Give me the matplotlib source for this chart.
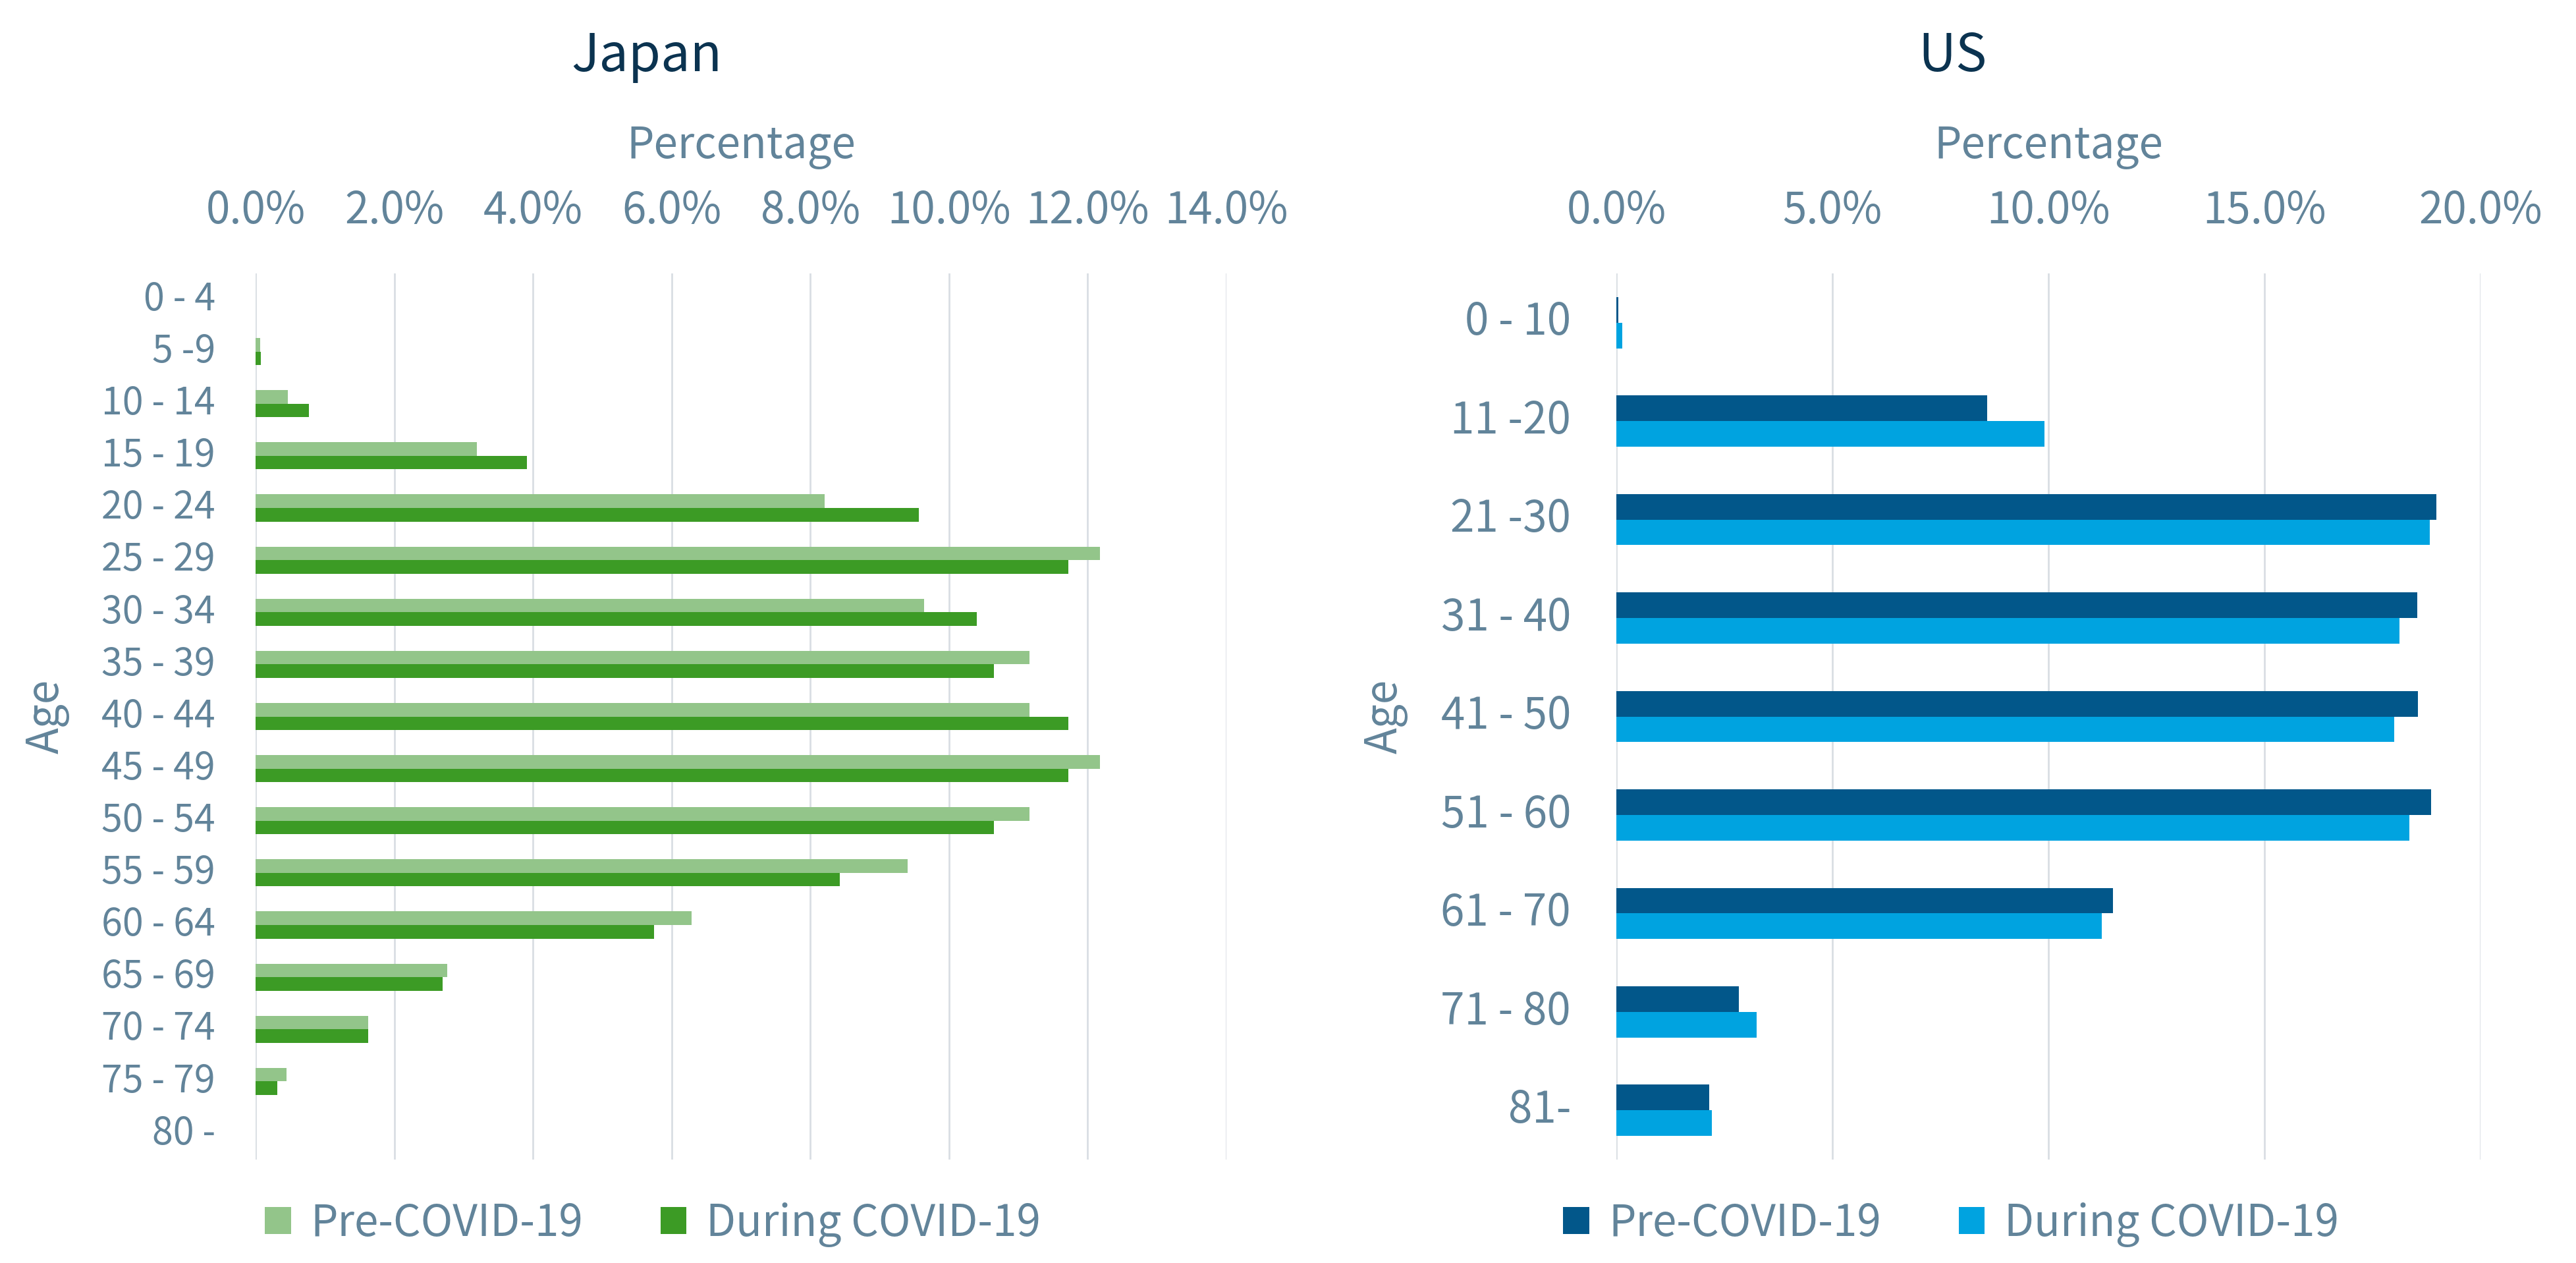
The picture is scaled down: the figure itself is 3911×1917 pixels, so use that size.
import matplotlib.pyplot as plt
import numpy as np

plt.rcParams['font.family'] = ['Noto Sans CJK JP', 'DejaVu Sans']

# Japan data (percent)
jp_ages = ['0 - 4', '5 -9', '10 - 14', '15 - 19', '20 - 24', '25 - 29', '30 - 34',
           '35 - 39', '40 - 44', '45 - 49', '50 - 54', '55 - 59', '60 - 64',
           '65 - 69', '70 - 74', '75 - 79', '80 -']
jp_pre = [0.0, 0.07, 0.47, 3.19, 8.21, 12.18, 9.64, 11.16, 11.16, 12.18,
          11.16, 9.40, 6.29, 2.76, 1.62, 0.45, 0.0]
jp_during = [0.0, 0.08, 0.77, 3.91, 9.56, 11.72, 10.40, 10.65, 11.72, 11.72,
             10.65, 8.42, 5.75, 2.70, 1.62, 0.31, 0.0]
jp_ticks = [0, 2, 4, 6, 8, 10, 12, 14]

# US data (percent)
us_ages = ['0 - 10', '11 -20', '21 -30', '31 - 40', '41 - 50', '51 - 60',
           '61 - 70', '71 - 80', '81-']
us_pre = [0.05, 8.58, 18.98, 18.53, 18.55, 18.85, 11.50, 2.84, 2.15]
us_during = [0.14, 9.91, 18.83, 18.12, 18.00, 18.36, 11.24, 3.25, 2.21]
us_ticks = [0, 5, 10, 15, 20]

W, H = 3912, 1917
DPI = 200
TXT = '#62849A'
TITLE = '#0B3350'
GRID = '#D9DEE3'

fig = plt.figure(figsize=(W / DPI, H / DPI), dpi=DPI)


def px(x0, y0, x1, y1):
    return [x0 / W, 1 - y1 / H, (x1 - x0) / W, (y1 - y0) / H]


def panel(rect, ages, pre, during, ticks, c_pre, c_dur, ylab_size, ylab_pad):
    ax = fig.add_axes(rect)
    y = np.arange(len(ages))
    h = 0.26
    ax.barh(y - h / 2, pre, height=h, color=c_pre, label='Pre-COVID-19', zorder=3)
    ax.barh(y + h / 2, during, height=h, color=c_dur, label='During COVID-19', zorder=3)
    ax.set_ylim(len(ages) - 0.5, -0.5)
    ax.set_xlim(ticks[0], ticks[-1])
    ax.set_yticks(y)
    ax.set_yticklabels(ages)
    ax.set_xticks(ticks)
    ax.set_xticklabels([f'{t:.1f}%' for t in ticks])
    ax.xaxis.tick_top()
    ax.tick_params(axis='x', length=0, pad=22, labelsize=23.6, labelcolor=TXT)
    ax.tick_params(axis='y', length=0, pad=ylab_pad, labelsize=ylab_size, labelcolor=TXT)
    for t in ax.get_yticklabels():
        t.set_va('center')
    ax.grid(axis='x', color=GRID, linewidth=1.0, zorder=0)
    ax.grid(axis='y', visible=False)
    for s in ax.spines.values():
        s.set_visible(False)
    return ax


ax1 = panel(px(388, 415, 1862, 1760), jp_ages, jp_pre, jp_during, jp_ticks,
            '#93C58A', '#3C9B25', 20.6, 22)
ax2 = panel(px(2454, 415, 3766, 1760), us_ages, us_pre, us_during, us_ticks,
            '#02578A', '#00A3E0', 23.6, 24.8)

# titles and axis labels
fig.text(982 / W, 1 - 108 / H, 'Japan', ha='center', va='baseline', fontsize=28.5, color=TITLE)
fig.text(2964 / W, 1 - 108 / H, 'US', ha='center', va='baseline', fontsize=28.5, color=TITLE)
fig.text(1125 / W, 1 - 240 / H, 'Percentage', ha='center', va='baseline', fontsize=23.6, color=TXT)
fig.text(3110 / W, 1 - 240 / H, 'Percentage', ha='center', va='baseline', fontsize=23.6, color=TXT)
fig.text(72 / W, 1 - 1087 / H, 'Age', ha='center', va='center', rotation=90, fontsize=23.6, color=TXT)
fig.text(2104 / W, 1 - 1087 / H, 'Age', ha='center', va='center', rotation=90, fontsize=23.6, color=TXT)

for ax, cx in [(ax1, 991), (ax2, 2962)]:
    leg = ax.legend(loc='center', bbox_to_anchor=(cx / W, 1 - 1858 / H),
                    bbox_transform=fig.transFigure, ncol=2, frameon=False,
                    fontsize=23.6, handlelength=0.6, handleheight=0.6,
                    handletextpad=0.45, columnspacing=1.8, borderpad=0)
    for t in leg.get_texts():
        t.set_color(TXT)

fig.savefig('out.png', dpi=DPI, facecolor='white')
